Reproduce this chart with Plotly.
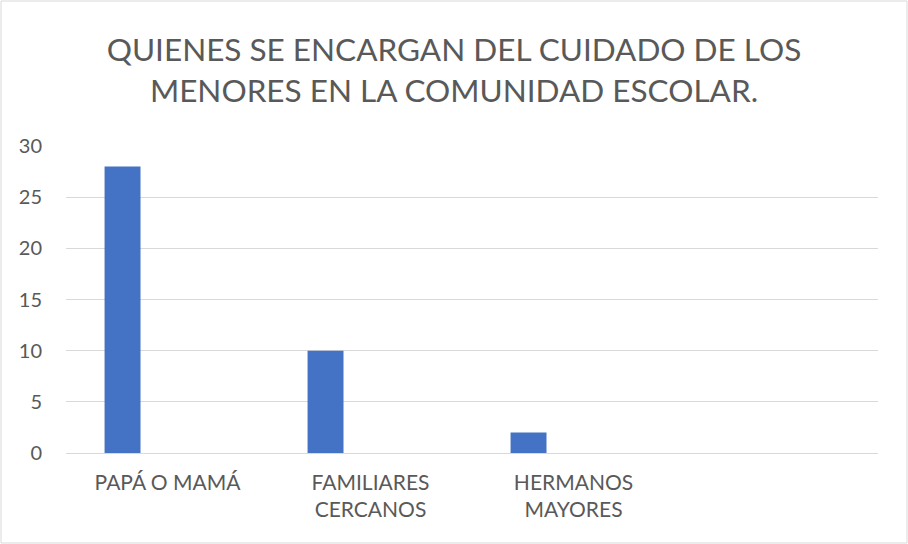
import plotly.graph_objects as go

# ─── Data ─────────────────────────────────────────────────────────────────────

categories = ["PAPÁ O MAMÁ", "FAMILIARES<br>CERCANOS", "HERMANOS<br>MAYORES"]
values = [28, 10, 2]
y_ticks = [0, 5, 10, 15, 20, 25, 30]

# ─── Style ────────────────────────────────────────────────────────────────────

BAR_BLUE = "#4472C4"
TEXT_GRAY = "#595959"
GRID_GRAY = "#D9D9D9"
FONT = "Lato, 'Open Sans', sans-serif"

W, H = 908, 544
M = dict(l=66, r=30, t=146, b=91)
pw = W - M["l"] - M["r"]
ph = H - M["t"] - M["b"]

fig = go.Figure(go.Bar(
    x=categories,
    y=values,
    width=0.177,
    offset=-0.31,
    marker=dict(color=BAR_BLUE, line=dict(width=0)),
    hovertemplate="%{x}: %{y}<extra></extra>",
))

fig.update_layout(
    width=W, height=H,
    margin=dict(**M, pad=0),
    paper_bgcolor="white",
    plot_bgcolor="white",
    showlegend=False,
    font=dict(family=FONT, color=TEXT_GRAY),
    title=dict(
        text="QUIENES SE ENCARGAN DEL CUIDADO DE LOS<br>MENORES EN LA COMUNIDAD ESCOLAR.",
        x=0.5, xref="container", xanchor="center",
        y=1 - 61 / H, yref="container", yanchor="middle",
        font=dict(family=FONT, size=31.5, color=TEXT_GRAY),
    ),
    xaxis=dict(
        type="category",
        range=[-0.5, 3.5],
        showgrid=False,
        showline=False,
        zeroline=False,
        ticks="",
        tickfont=dict(size=21, color=TEXT_GRAY),
        ticklabelstandoff=15,
        fixedrange=True,
    ),
    yaxis=dict(
        range=[0, 30],
        tickvals=y_ticks,
        showgrid=True,
        gridcolor=GRID_GRAY,
        gridwidth=1,
        zeroline=True,
        zerolinecolor=GRID_GRAY,
        zerolinewidth=1,
        showline=False,
        ticks="",
        tickfont=dict(size=20, color=TEXT_GRAY),
        ticklabelstandoff=23,
        fixedrange=True,
    ),
    shapes=[dict(
        type="rect", xref="paper", yref="paper",
        x0=(1 - M["l"]) / pw, x1=(W - 1 - M["l"]) / pw,
        y0=-(M["b"] - 1) / ph, y1=1 + (M["t"] - 1) / ph,
        line=dict(color=GRID_GRAY, width=1),
        layer="below",
    )],
)

# drop the page's default body margin so the chart sits at the window's corner
fig.write_html(
    "out.html",
    config={"displayModeBar": False},
    post_script="document.body.style.margin = '0';",
)
